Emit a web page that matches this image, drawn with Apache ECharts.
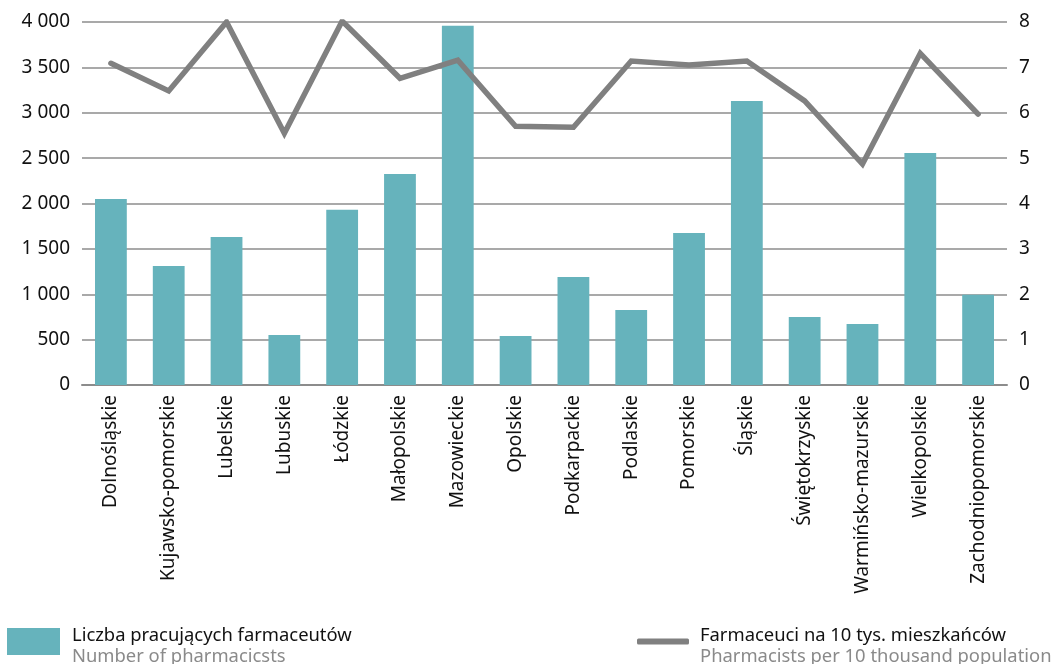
<!DOCTYPE html>
<html><head><meta charset="utf-8">
<script src="https://cdn.jsdelivr.net/npm/echarts@6/dist/echarts.min.js"></script>
<style>html,body{margin:0;padding:0;background:#fff}#c{width:1060px;height:664px}</style>
</head><body><div id="c"></div>
<script>
const categories = ['Dolnośląskie','Kujawsko-pomorskie','Lubelskie','Lubuskie','Łódzkie','Małopolskie','Mazowieckie','Opolskie','Podkarpackie','Podlaskie','Pomorskie','Śląskie','Świętokrzyskie','Warmińsko-mazurskie','Wielkopolskie','Zachodniopomorskie'];
const pharmacists = [2050,1310,1630,550,1930,2325,3960,540,1190,826,1675,3130,750,672,2556,995];
const perTenThousand = [7.09,6.48,8.0,5.55,8.02,6.76,7.16,5.70,5.68,7.14,7.05,7.14,6.26,4.87,7.31,5.97];
const leftTicks = [0,500,1000,1500,2000,2500,3000,3500,4000];
const rightTicks = [0,1,2,3,4,5,6,7,8];
const seriesNamesPL = ['Liczba pracujących farmaceutów','Farmaceuci na 10 tys. mieszkańców'];
const seriesNamesEN = ['Number of pharmacicsts','Pharmacists per 10 thousand population'];

const FONT = 'Noto Sans';
const FS = 19;
const LFS = 18.4;
const chart = echarts.init(document.getElementById('c'));
const fmtThousands = v => String(v).replace(/\B(?=(\d{3})+(?!\d))/g, ' ');
const legendRich = {
  a:{fontFamily:FONT,fontSize:LFS,color:'#111',lineHeight:21},
  b:{fontFamily:FONT,fontSize:LFS,color:'#8a8a8a',lineHeight:21}
};
chart.setOption({
  animation:false,
  textStyle:{fontFamily:FONT},
  grid:{left:82,right:53,top:22,bottom:279,containLabel:false},
  legend:[{
    left:7, top:627, padding:0, itemWidth:53, itemHeight:27, itemGap:0,
    data:[{name:seriesNamesPL[0], icon:'rect'}],
    formatter: n => '{a|'+n+'}\n{b|'+seriesNamesEN[0]+'}',
    textStyle:{rich:legendRich, padding:[10,0,0,7]}
  },{
    left:637, top:627, padding:0, itemWidth:52, itemHeight:6, itemGap:0,
    data:[{name:seriesNamesPL[1], icon:'roundRect'}],
    formatter: n => '{a|'+n+'}\n{b|'+seriesNamesEN[1]+'}',
    textStyle:{rich:legendRich, padding:[10,0,0,6]}
  }],
  xAxis:{
    type:'category', data:categories,
    axisLine:{lineStyle:{color:'#8c8c8c',width:2}},
    axisTick:{show:false},
    axisLabel:{rotate:90, fontSize:FS, color:'#111', fontFamily:FONT, margin:10, interval:0}
  },
  yAxis:[{
    type:'value', min:0, max:4000, interval:500,
    axisLine:{show:false}, axisTick:{show:false},
    splitLine:{lineStyle:{color:'#8c8c8c',width:1.5}},
    axisLabel:{fontSize:FS, color:'#111', fontFamily:FONT, margin:12, formatter:fmtThousands}
  },{
    type:'value', min:0, max:8, interval:1,
    axisLine:{show:false}, axisTick:{show:false}, splitLine:{show:false},
    axisLabel:{fontSize:FS, color:'#111', fontFamily:FONT, margin:12}
  }],
  series:[{
    name:seriesNamesPL[0], type:'bar', data:pharmacists, barWidth:'55%',
    itemStyle:{color:'#66b3bc'}
  },{
    name:seriesNamesPL[1], type:'line', yAxisIndex:1, data:perTenThousand,
    symbol:'none', lineStyle:{color:'#808080',width:5.5, cap:'round', join:'miter'},
    itemStyle:{color:'#808080'}
  }]
});
</script></body></html>
